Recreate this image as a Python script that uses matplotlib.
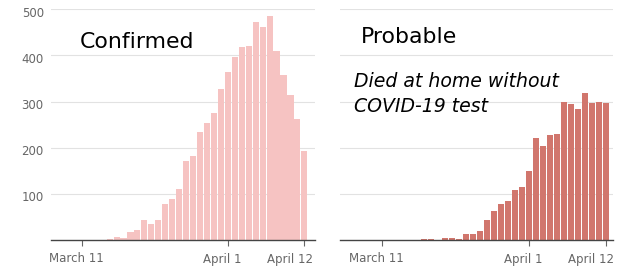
import matplotlib
matplotlib.use("Agg")
import matplotlib.pyplot as plt
from matplotlib.transforms import ScaledTranslation
import numpy as np

# Day offsets relative to March 11 (day 0)
confirmed_start = 4   # March 15
confirmed = [3, 6, 4, 18, 22, 43, 35, 43, 78, 89, 111, 172, 182, 234, 254, 275, 328,
             364, 397, 419, 420, 472, 462, 486, 410, 358, 314, 262, 193]
probable_start = 6    # March 17
probable = [1.5, 1.5, 1, 3.6, 5, 1.5, 14, 12, 19.5, 43, 62, 77, 85, 108, 115,
            150, 221, 204, 228, 230, 300, 295, 283, 319, 296, 300, 296]

tick_days = [0, 21, 32]
tick_labels = ["March 11", "April 1", "April 12"]
label_shift_px = [-5.5, -6, -14.5]
ytick_vals = [100, 200, 300, 400, 500]

W, H = 625, 273
fig = plt.figure(figsize=(W / 100, H / 100), dpi=100)
plt.rcParams['font.family'] = ['DejaVu Sans']

def px_rect(x0, x1, ytop, ybot):
    return [x0 / W, (H - ybot) / H, (x1 - x0) / W, (ybot - ytop) / H]

ax1 = fig.add_axes(px_rect(50.7, 315, 9.3, 240))
ax2 = fig.add_axes(px_rect(340.5, 613, 9.3, 240))

def style(ax, start, vals, color, xlim, show_y):
    x = np.arange(start, start + len(vals))
    ax.bar(x, vals, width=0.88, color=color, linewidth=0, zorder=2)
    ax.set_xlim(*xlim)
    ax.set_ylim(0, 500)
    ax.set_yticks(ytick_vals)
    ax.grid(axis="y", color="#e2e2e2", linewidth=0.8, zorder=0)
    ax.set_axisbelow(True)
    for s in ["left", "right", "top"]:
        ax.spines[s].set_visible(False)
    ax.spines["bottom"].set_color("#444444")
    ax.spines["bottom"].set_linewidth(1.0)
    ax.spines["bottom"].set_zorder(3)
    ax.set_xticks(tick_days)
    ax.set_xticklabels(tick_labels)
    ax.tick_params(axis="x", length=4, width=0.8, color="#666666", labelsize=8.5,
                   labelcolor="#666666", pad=5)
    for lab, dx in zip(ax.get_xticklabels(), label_shift_px):
        lab.set_transform(lab.get_transform() + ScaledTranslation(dx / 100, 0, fig.dpi_scale_trans))
    if show_y:
        ax.tick_params(axis="y", length=0, labelsize=8.5, labelcolor="#666666", pad=5)
        for lab in ax.get_yticklabels():
            lab.set_transform(lab.get_transform() + ScaledTranslation(0, -2.5 / 100, fig.dpi_scale_trans))
    else:
        ax.tick_params(axis="y", length=0, labelleft=False)

style(ax1, confirmed_start, confirmed, "#f6c3c2", (-4.47, 33.53), True)
style(ax2, probable_start, probable, "#d1766d", (-5.95, 33.05), False)

def ftext(x, y, s, **kw):
    fig.text(x / W, (H - y) / H, s, va="baseline", ha="left", **kw)

ftext(79.3, 48, "Confirmed", fontsize=15.8, color="black")
ftext(360.7, 42.7, "Probable", fontsize=15.8, color="black")
ftext(354.3, 87.3, "Died at home without", fontsize=13.6, style="italic", color="black")
ftext(354.3, 111.7, "COVID-19 test", fontsize=13.6, style="italic", color="black")

fig.savefig("out.png", dpi=100)
